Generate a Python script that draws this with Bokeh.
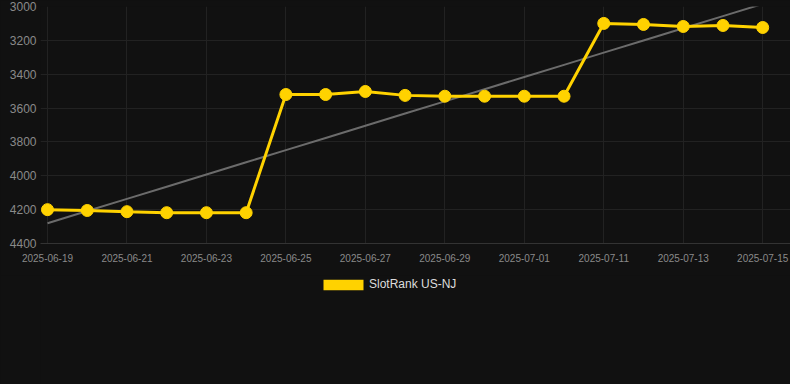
import numpy as np
from bokeh.plotting import figure
from bokeh.layouts import column
from bokeh.models import ColumnDataSource, Range1d, Legend, LegendItem, FixedTicker
from bokeh.embed import file_html
from bokeh.resources import INLINE

dates = ["2025-06-19", "2025-06-20", "2025-06-21", "2025-06-22", "2025-06-23",
         "2025-06-24", "2025-06-25", "2025-06-26", "2025-06-27", "2025-06-28",
         "2025-06-29", "2025-06-30", "2025-07-01", "2025-07-10", "2025-07-11",
         "2025-07-12", "2025-07-13", "2025-07-14", "2025-07-15"]
rank = [4200, 4205, 4212, 4218, 4218, 4218, 3520, 3520, 3502, 3525,
        3530, 3530, 3530, 3530, 3100, 3106, 3118, 3112, 3124]
y_ticks = [3000, 3200, 3400, 3600, 3800, 4000, 4200, 4400]
series_name = "SlotRank US-NJ"

BG = "#111111"
GOLD = "#FFD200"
FONT = "Liberation Sans"

idx = list(range(len(dates)))
coef = np.polyfit(idx, rank, 1)
trend = list(np.polyval(coef, idx))

src = ColumnDataSource(dict(x=idx, y=rank, t=trend))

p = figure(width=790, height=275, output_backend="svg", toolbar_location=None,
           x_range=Range1d(-0.176, 18.7), y_range=Range1d(4400, 3000),
           min_border_left=40, min_border_right=0, min_border_top=6,
           min_border_bottom=32)
p.background_fill_color = BG
p.border_fill_color = BG
p.outline_line_color = None

p.xaxis.ticker = FixedTicker(ticks=idx[::2])
p.xaxis.major_label_overrides = {i: dates[i] for i in idx}
p.yaxis.ticker = FixedTicker(ticks=y_ticks)
for ax in (p.xaxis, p.yaxis):
    ax.major_tick_line_color = None
    ax.minor_tick_line_color = None
    ax.major_tick_out = 0
    ax.major_tick_in = 0
    ax.major_label_text_font = FONT
    ax.major_label_text_color = "#8a8a8a"
p.yaxis.axis_line_color = None
p.yaxis.major_label_text_font_size = "12px"
p.yaxis.major_label_standoff = 4
p.xaxis.axis_line_color = "#333333"
p.xaxis.major_label_text_font_size = "10px"
p.xaxis.major_label_standoff = 10

p.xgrid.ticker = FixedTicker(ticks=idx[::2])
p.xgrid.grid_line_color = "#222222"
p.ygrid.grid_line_color = "#222222"

p.line("x", "t", source=src, line_color="#6b6b6b", line_width=2)
p.line("x", "y", source=src, line_color=GOLD, line_width=3)
p.scatter("x", "y", source=src, size=12, fill_color=GOLD, line_color=GOLD)

# legend strip below the chart
lg = figure(width=790, height=109, output_backend="svg", toolbar_location=None,
            x_range=Range1d(0, 1), y_range=Range1d(0, 1),
            x_axis_type=None, y_axis_type=None,
            min_border_left=0, min_border_right=0, min_border_top=0,
            min_border_bottom=0)
lg.background_fill_color = BG
lg.border_fill_color = BG
lg.outline_line_color = None
lg.xgrid.visible = False
lg.ygrid.visible = False
dummy = lg.quad(left=[0], right=[0], top=[0], bottom=[0],
                fill_color=GOLD, line_color=GOLD, line_width=0)

legend = Legend(items=[LegendItem(label=series_name, renderers=[dummy])],
                location=(278, 93), orientation="horizontal",
                background_fill_alpha=0, border_line_color=None,
                glyph_width=50, glyph_height=13, label_height=13,
                label_standoff=1, padding=0, margin=0,
                label_text_font=FONT, label_text_font_size="12px",
                label_text_color="#dddddd")
lg.add_layout(legend, "center")

layout = column(p, lg, spacing=0)
layout.styles = {"background-color": BG}

open("out.html", "w").write(file_html(layout, INLINE))
